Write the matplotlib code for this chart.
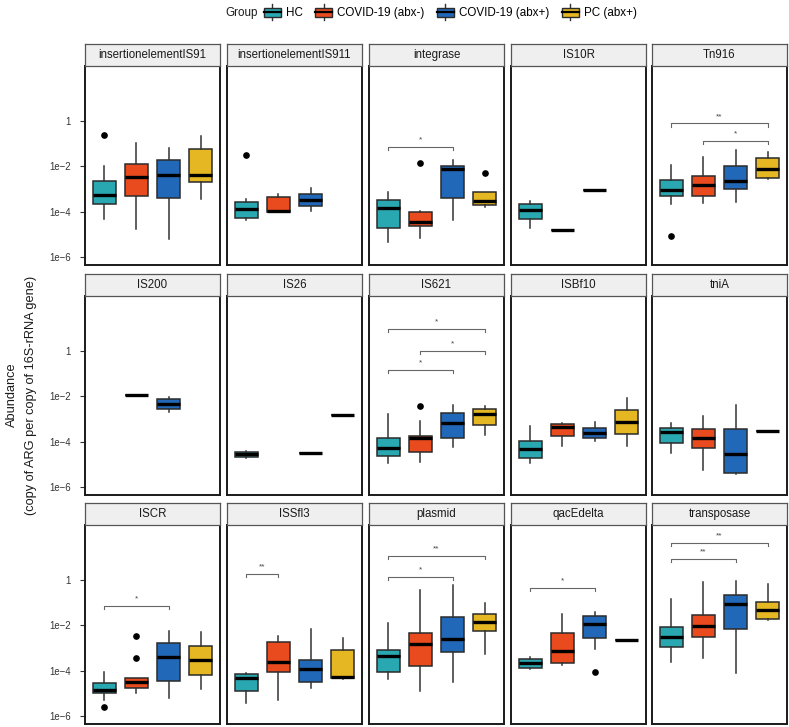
import numpy as np
import matplotlib
matplotlib.use("Agg")
import matplotlib.pyplot as plt
from matplotlib.patches import Rectangle, Patch
from matplotlib.lines import Line2D
from matplotlib.legend_handler import HandlerBase

plt.rcParams['font.family'] = ['Liberation Sans', 'DejaVu Sans']

# ---------------- data (log10 abundance) ----------------
groups = ["HC", "COVID-19 (abx-)", "COVID-19 (abx+)", "PC (abx+)"]
colors = ["#2AA8B1", "#E94B1F", "#2268B8", "#E4B723"]

panels = ["insertionelementIS91", "insertionelementIS911", "integrase", "IS10R", "Tn916",
          "IS200", "IS26", "IS621", "ISBf10", "tniA",
          "ISCR", "ISSfl3", "plasmid", "qacEdelta", "transposase"]

N = None
# each row: [HC, COVID-19 (abx-), COVID-19 (abx+), PC (abx+)]
whis_hi = [[-1.99, -0.97, -1.21, -0.69], [-3.45, -3.22, -2.97, N], [-3.13, -3.95, -1.73, -3.15],
           [-3.54, -4.79, -3.03, N], [-1.95, -1.61, -1.29, -1.39],
           [N, -1.96, -2.05, N], [-4.42, N, -4.50, -2.83], [-2.80, -3.08, -2.39, -2.43],
           [-3.33, -3.17, -3.13, -2.08], [-3.18, -2.87, -2.39, -3.52],
           [-4.04, -4.31, -2.24, -2.29], [-4.09, -2.49, -2.16, -2.57], [-1.91, -0.46, -0.24, -1.04],
           [-3.38, -1.50, -1.40, -2.66], [-0.85, -0.09, -0.04, -0.19]]
q3 = [[-2.66, -1.90, -1.71, -1.24], [-3.59, -3.37, -3.20, N], [-3.47, -4.02, -1.98, -3.15],
      [-3.64, -4.79, -3.03, N], [-2.60, -2.42, -1.98, -1.62],
      [N, -1.96, -2.14, N], [-4.47, N, -4.50, -2.83], [-3.83, -3.73, -2.74, -2.58],
      [-3.98, -3.24, -3.39, -2.59], [-3.39, -3.45, -3.42, -3.52],
      [-4.56, -4.31, -2.78, -2.91], [-4.15, -2.74, -3.53, -3.09], [-3.07, -2.34, -1.63, -1.53],
      [-3.49, -2.35, -1.59, -2.66], [-2.07, -1.54, -0.69, -0.97]]
med = [[-3.28, -2.47, -2.39, -2.37], [-3.89, -3.97, -3.47, N], [-3.83, -4.43, -2.12, -3.51],
       [-3.92, -4.79, -3.03, N], [-3.06, -2.84, -2.63, -2.12],
       [N, -1.96, -2.34, N], [-4.56, N, -4.50, -2.83], [-4.28, -3.82, -3.17, -2.79],
       [-4.33, -3.35, -3.63, -3.13], [-3.58, -3.83, -4.54, -3.52],
       [-4.85, -4.49, -3.41, -3.54], [-4.34, -3.60, -3.93, -4.28], [-3.37, -2.84, -2.60, -1.84],
       [-3.68, -3.13, -1.94, -2.66], [-2.51, -2.04, -1.07, -1.34]]
q1 = [[-3.66, -3.32, -3.38, -2.71], [-4.27, -4.00, -3.73, N], [-4.70, -4.64, -3.38, -3.70],
      [-4.33, -4.79, -3.03, N], [-3.32, -3.29, -3.00, -2.50],
      [N, -1.96, -2.58, N], [-4.66, N, -4.50, -2.83], [-4.64, -4.44, -3.83, -3.26],
      [-4.72, -3.77, -3.85, -3.67], [-4.07, -4.29, -5.37, -3.52],
      [-4.97, -4.75, -4.44, -4.19], [-4.87, -4.07, -4.49, -4.34], [-4.07, -3.78, -3.19, -2.26],
      [-3.90, -3.66, -2.56, -2.66], [-2.96, -2.53, -2.18, -1.72]]
whis_lo = [[-4.30, -4.74, -5.18, -3.42], [-4.36, -4.00, -3.95, N], [-5.31, -5.14, -4.36, -3.80],
           [-4.73, -4.79, -3.03, N], [-3.64, -3.61, -3.57, -2.58],
           [N, -1.96, -2.70, N], [-4.70, N, -4.50, -2.83], [-4.92, -4.87, -4.25, -3.72],
           [-4.95, -4.20, -3.98, -4.20], [-4.51, -5.26, -5.43, -3.52],
           [-5.29, -5.00, -5.19, -4.82], [-5.41, -5.28, -4.74, -4.38], [-4.38, -4.90, -4.50, -3.26],
           [-3.94, -3.76, -3.03, -2.66], [-3.62, -3.43, -4.09, -1.78]]
outliers = [[[-0.64], [], [], []], [[-1.49], [], [], []], [[], [-1.86], [], [-2.31]],
            [[], [], [], []], [[-5.05], [], [], []],
            [[], [], [], []], [[], [], [], []], [[], [-2.43], [], []],
            [[], [], [], []], [[], [], [], []],
            [[-5.60], [-2.47, -3.43], [], []], [[], [], [], []], [[], [], [], []],
            [[], [], [-4.07], []], [[], [], [], []]]

# significance brackets: (panel index, group a, group b, log10 height, label)
sig_panel = [2, 4, 4, 7, 7, 7, 10, 11, 12, 12, 13, 14, 14]
sig_a = [0, 0, 1, 0, 1, 0, 0, 0, 0, 0, 0, 0, 0]
sig_b = [2, 3, 3, 3, 3, 2, 2, 1, 3, 2, 2, 3, 2]
sig_y = [-1.14, -0.12, -0.88, 0.96, -0.01, -0.84, -1.15, 0.26, 1.03, 0.13, -0.37, 1.60, 0.91]
sig_lab = ["*", "**", "*", "*", "*", "*", "*", "**", "**", "*", "*", "**", "**"]

yticks = [-6, -4, -2, 0]
ytick_labels = ["1e\u22126", "1e\u22124", "1e\u22122", "1"]

# ---------------- layout ----------------
W, H = 789, 727
fig = plt.figure(figsize=(W / 100, H / 100), dpi=100)

col_left = [85, 227, 369, 511, 652]
row_top = [66, 296, 525]
pw, ph = 135, 199
strip_h = 22.5

edge = "#2b2b2b"
for i, name in enumerate(panels):
    r, c = divmod(i, 5)
    x0 = col_left[c]
    y0 = row_top[r]
    ax = fig.add_axes([x0 / W, 1 - (y0 + ph) / H, pw / W, ph / H])
    stats, pos, cols = [], [], []
    for g in range(4):
        if med[i][g] is None:
            continue
        stats.append(dict(med=10 ** med[i][g], q1=10 ** q1[i][g], q3=10 ** q3[i][g],
                          whislo=10 ** whis_lo[i][g], whishi=10 ** whis_hi[i][g],
                          fliers=[10 ** v for v in outliers[i][g]]))
        pos.append(g + 1)
        cols.append(colors[g])
    bp = ax.bxp(stats, positions=pos, widths=0.72, patch_artist=True, showcaps=False,
                boxprops=dict(edgecolor=edge, linewidth=1.1),
                whiskerprops=dict(color="#333333", linewidth=1.1),
                medianprops=dict(color="black", linewidth=2.4, solid_capstyle="butt"),
                flierprops=dict(marker="o", markerfacecolor="black", markeredgecolor="black",
                                markersize=3.8))
    for patch, col in zip(bp["boxes"], cols):
        patch.set_facecolor(col)
    ax.set_yscale("log")
    ax.set_ylim(10 ** -6.34, 10 ** 2.40)
    ax.set_xlim(0.4, 4.6)
    ax.set_xticks([])
    ax.minorticks_off()
    ax.set_yticks([10.0 ** t for t in yticks])
    if c == 0:
        ax.set_yticklabels(ytick_labels, fontsize=6.9, color="#333333")
        ax.tick_params(axis="y", length=3.6, width=0.8, color="#333333", pad=6.5)
    else:
        ax.set_yticklabels([])
        ax.tick_params(axis="y", length=0)
    for s in ax.spines.values():
        s.set_linewidth(1.4)
        s.set_color("#1a1a1a")

    # significance brackets
    for k in range(len(sig_panel)):
        if sig_panel[k] != i:
            continue
        xa, xb = sig_a[k] + 1, sig_b[k] + 1
        yl = sig_y[k]
        ax.plot([xa, xa, xb, xb], [10 ** (yl - 0.14), 10 ** yl, 10 ** yl, 10 ** (yl - 0.14)],
                color="#666666", lw=0.8)
        ax.text((xa + xb) / 2, 10 ** (yl + 0.30), sig_lab[k], ha="center", va="center",
                fontsize=6, color="#444444")

    # strip
    sax = fig.add_axes([x0 / W, 1 - (y0) / H, pw / W, strip_h / H])
    sax.set_facecolor("#EFEFEF")
    sax.set_xticks([])
    sax.set_yticks([])
    for s in sax.spines.values():
        s.set_linewidth(0.9)
        s.set_color("#555555")
    sax.text(0.5, 0.5, name, ha="center", va="center", fontsize=8.3, color="#1a1a1a",
             transform=sax.transAxes)

# y label
fig.text(12 / W, 1 - 395 / H, "Abundance", rotation=90, ha="center", va="center",
         fontsize=9.2, color="#1a1a1a")
fig.text(31 / W, 1 - 395 / H, "(copy of ARG per copy of 16S-rRNA gene)", rotation=90,
         ha="center", va="center", fontsize=9.2, color="#1a1a1a")


# legend
class BoxHandler(HandlerBase):
    def create_artists(self, legend, orig_handle, xdescent, ydescent, width, height,
                       fontsize, trans):
        bw = width
        bh = height * 0.85
        bx = -xdescent
        by = -ydescent + (height - bh) / 2
        rect = Rectangle((bx, by), bw, bh, facecolor=orig_handle.get_facecolor(),
                         edgecolor=edge, linewidth=1.0, transform=trans)
        midx = bx + bw / 2
        ext = height * 0.3
        w1 = Line2D([midx, midx], [by + bh, by + bh + ext], color="#333333", lw=1.0,
                    transform=trans)
        w2 = Line2D([midx, midx], [by - ext, by], color="#333333", lw=1.0, transform=trans)
        m = Line2D([bx, bx + bw], [by + bh / 2, by + bh / 2], color="black", lw=1.6,
                   transform=trans)
        return [w1, w2, rect, m]


handles = [Patch(facecolor=col, label=g) for g, col in zip(groups, colors)]
fig.text(225 / W, 1 - 13 / H, "Group", ha="left", va="center", fontsize=8.4, color="#1a1a1a")
leg = fig.legend(handles=handles, loc="center left", bbox_to_anchor=(264 / W, 1 - 13 / H),
                 ncol=4, frameon=False, fontsize=8.4, handler_map={Patch: BoxHandler()},
                 handlelength=1.45, handleheight=1.1, handletextpad=0.45, columnspacing=1.05,
                 borderaxespad=0, borderpad=0)

fig.savefig("out.png", dpi=100)
